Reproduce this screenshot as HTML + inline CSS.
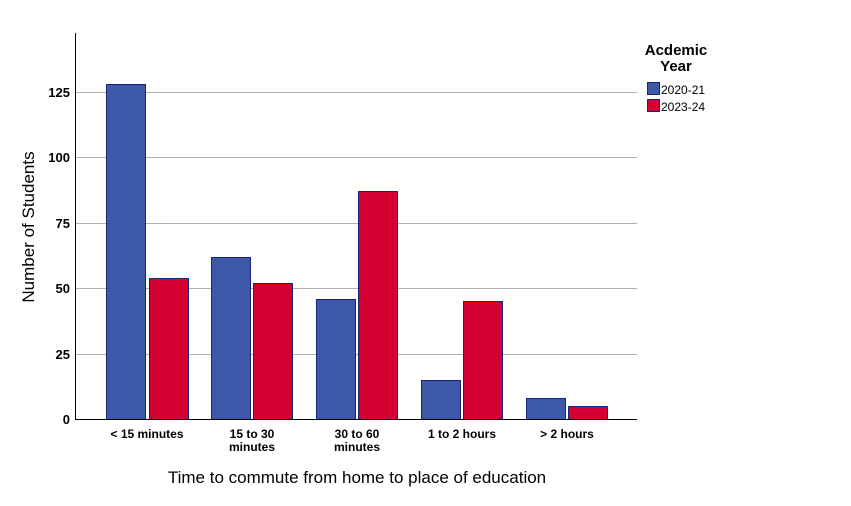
<!DOCTYPE html>
<html><head><meta charset="utf-8"><style>
body{margin:0;background:#fff;}
svg text{font-family:"Liberation Sans",Arial,sans-serif;}
</style></head><body>
<svg width="851" height="501" xmlns="http://www.w3.org/2000/svg">
<rect width="851" height="501" fill="#fff"/>
<g stroke="#b0b0b0" stroke-width="1">
<line x1="75" y1="92.5" x2="637" y2="92.5"/>
<line x1="75" y1="157.5" x2="637" y2="157.5"/>
<line x1="75" y1="223.5" x2="637" y2="223.5"/>
<line x1="75" y1="288.5" x2="637" y2="288.5"/>
<line x1="75" y1="354.5" x2="637" y2="354.5"/>
</g>
<g stroke="#1a237e" stroke-width="1">
<rect x="106.5" y="84.5" width="39" height="335" fill="#3e58a8"/>
<rect x="149.5" y="278.5" width="39" height="141" fill="#d50032"/>
<rect x="211.5" y="257.5" width="39" height="162" fill="#3e58a8"/>
<rect x="253.5" y="283.5" width="39" height="136" fill="#d50032"/>
<rect x="316.5" y="299.5" width="39" height="120" fill="#3e58a8"/>
<rect x="358.5" y="191.5" width="39" height="228" fill="#d50032"/>
<rect x="421.5" y="380.5" width="39" height="39" fill="#3e58a8"/>
<rect x="463.5" y="301.5" width="39" height="118" fill="#d50032"/>
<rect x="526.5" y="398.5" width="39" height="21" fill="#3e58a8"/>
<rect x="568.5" y="406.5" width="39" height="13" fill="#d50032"/>
</g>
<line x1="75.5" y1="33" x2="75.5" y2="420" stroke="#000"/>
<line x1="75" y1="419.5" x2="637" y2="419.5" stroke="#000"/>
<g font-size="13" font-weight="bold" text-anchor="end" fill="#000">
<text x="70" y="97">125</text>
<text x="70" y="162">100</text>
<text x="70" y="228">75</text>
<text x="70" y="293">50</text>
<text x="70" y="359">25</text>
<text x="70" y="424">0</text>
</g>
<g font-size="12" font-weight="bold" text-anchor="middle" fill="#000">
<text x="147" y="438">&lt; 15 minutes</text>
<text x="252" y="438">15 to 30</text><text x="252" y="451">minutes</text>
<text x="357" y="438">30 to 60</text><text x="357" y="451">minutes</text>
<text x="462" y="438">1 to 2 hours</text>
<text x="567" y="438">&gt; 2 hours</text>
</g>
<text x="357" y="483" font-size="17" text-anchor="middle" fill="#000">Time to commute from home to place of education</text>
<text transform="translate(34,227) rotate(-90)" font-size="17" text-anchor="middle" fill="#000">Number of Students</text>
<g font-size="15" font-weight="bold" text-anchor="middle" fill="#000">
<text x="676" y="55">Acdemic</text>
<text x="676" y="71">Year</text>
</g>
<rect x="647.5" y="82.5" width="12" height="12" fill="#3e58a8" stroke="#1a237e"/>
<rect x="647.5" y="99.5" width="12" height="12" fill="#d50032" stroke="#1a237e"/>
<g font-size="12" fill="#000">
<text x="661" y="94">2020-21</text>
<text x="661" y="111">2023-24</text>
</g>
</svg>
</body></html>
